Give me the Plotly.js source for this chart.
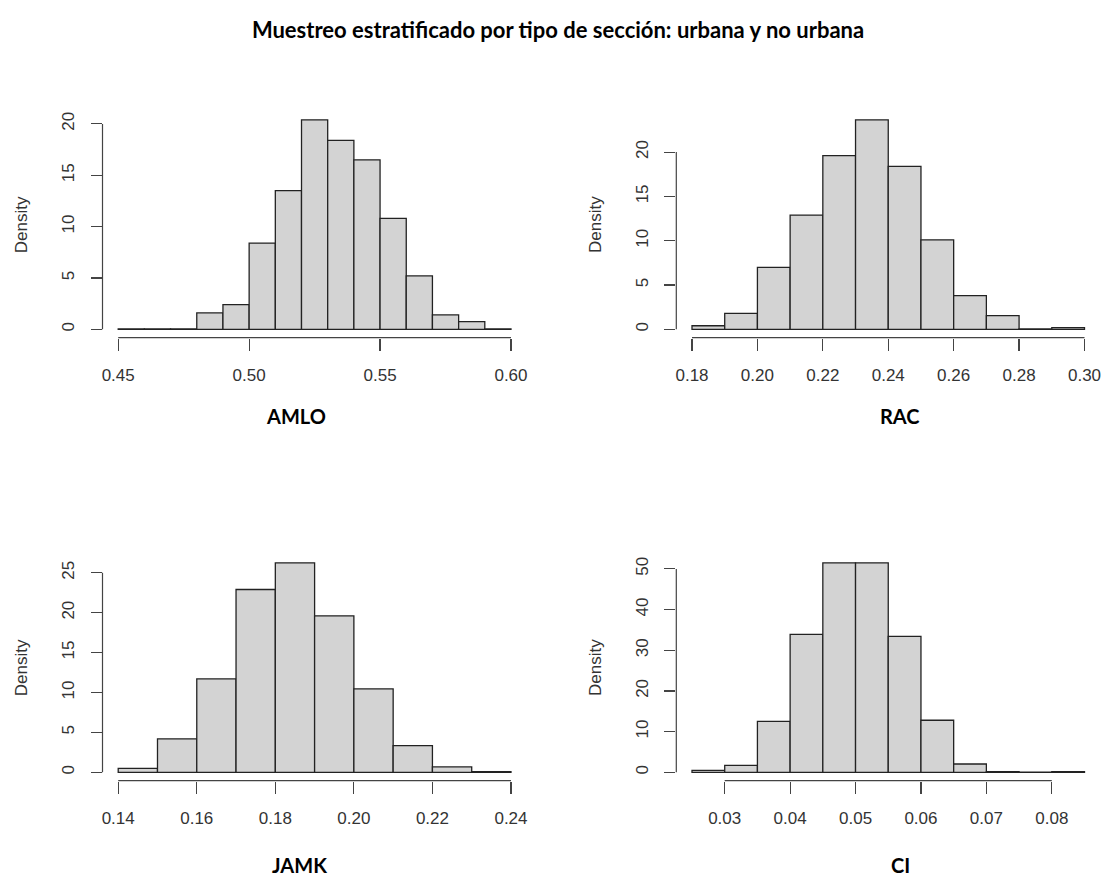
<!DOCTYPE html>
<html>
<head>
<meta charset="utf-8">
<script src="https://cdn.plot.ly/plotly-3.0.1.min.js"></script>
<style>
  html, body { margin: 0; padding: 0; background: #ffffff; }
  #chart { width: 1105px; height: 879px; }
</style>
</head>
<body>
<div id="chart"></div>
<script>
// ---------------- DATA ----------------
const chartTitle = "Muestreo estratificado por tipo de sección: urbana y no urbana";
const panelNames = ["AMLO", "RAC", "JAMK", "CI"];

// AMLO: bins of width 0.01 starting at 0.45
const amloBinStart = 0.45;
const amloBinWidth = 0.01;
const amloDensity = [0.05, 0.05, 0.05, 1.6, 2.4, 8.4, 13.5, 20.4, 18.4, 16.5, 10.8, 5.2, 1.4, 0.75, 0.05];
const amloXTicks = [0.45, 0.50, 0.55, 0.60];
const amloXLabels = ["0.45", "0.50", "0.55", "0.60"];
const amloYTicks = [0, 5, 10, 15, 20];

// RAC: bins of width 0.01 starting at 0.18
const racBinStart = 0.18;
const racBinWidth = 0.01;
const racDensity = [0.4, 1.8, 7.0, 12.9, 19.6, 23.65, 18.4, 10.1, 3.8, 1.55, 0.05, 0.2];
const racXTicks = [0.18, 0.20, 0.22, 0.24, 0.26, 0.28, 0.30];
const racXLabels = ["0.18", "0.20", "0.22", "0.24", "0.26", "0.28", "0.30"];
const racYTicks = [0, 5, 10, 15, 20];

// JAMK: bins of width 0.01 starting at 0.14
const jamkBinStart = 0.14;
const jamkBinWidth = 0.01;
const jamkDensity = [0.5, 4.2, 11.7, 22.9, 26.25, 19.6, 10.45, 3.35, 0.67, 0.08];
const jamkXTicks = [0.14, 0.16, 0.18, 0.20, 0.22, 0.24];
const jamkXLabels = ["0.14", "0.16", "0.18", "0.20", "0.22", "0.24"];
const jamkYTicks = [0, 5, 10, 15, 20, 25];

// CI: bins of width 0.005 starting at 0.025
const ciBinStart = 0.025;
const ciBinWidth = 0.005;
const ciDensity = [0.5, 1.7, 12.5, 33.9, 51.5, 51.5, 33.4, 12.8, 2.05, 0.15, 0.05, 0.15];
const ciXTicks = [0.03, 0.04, 0.05, 0.06, 0.07, 0.08];
const ciXLabels = ["0.03", "0.04", "0.05", "0.06", "0.07", "0.08"];
const ciYTicks = [0, 10, 20, 30, 40, 50];

const yTitle = "Density";

// ---------------- LAYOUT HELPERS ----------------
const W = 1105, H = 879;
const fx = px => px / W;
const fy = py => 1 - py / H;

// plot regions in pixels (left, right, top, bottom)
const cols = [[102.5, 526.7], [676.3, 1100.2]];
const rows = [[111.4, 337.7], [554.4, 780.7]];
const panelCol = [0, 1, 0, 1];
const panelRow = [0, 0, 1, 1];
const labelPos = [[296, 416], [900, 416], [299, 865], [900, 865]];

const panels = [
  { start: amloBinStart, width: amloBinWidth, dens: amloDensity, xt: amloXTicks, xl: amloXLabels, yt: amloYTicks },
  { start: racBinStart,  width: racBinWidth,  dens: racDensity,  xt: racXTicks,  xl: racXLabels,  yt: racYTicks },
  { start: jamkBinStart, width: jamkBinWidth, dens: jamkDensity, xt: jamkXTicks, xl: jamkXLabels, yt: jamkYTicks },
  { start: ciBinStart,   width: ciBinWidth,   dens: ciDensity,   xt: ciXTicks,   xl: ciXLabels,   yt: ciYTicks }
];

const tickFont = { family: "Liberation Sans, Arial, sans-serif", size: 17, color: "#333333" };
const axisColor = "#444444";

const traces = [];
const layout = {
  width: W, height: H,
  margin: { l: 0, r: 0, t: 0, b: 0, pad: 0 },
  paper_bgcolor: "#ffffff",
  plot_bgcolor: "#ffffff",
  showlegend: false,
  bargap: 0,
  title: {
    text: "<b>" + chartTitle + "</b>",
    x: 0.505, xanchor: "center", xref: "paper",
    y: fy(30), yanchor: "middle", yref: "container",
    font: { family: "Lato, Open Sans, sans-serif", size: 22, color: "#000000" }
  },
  shapes: [],
  annotations: []
};

panels.forEach((p, i) => {
  const n = i + 1;
  const xId = "x" + (n === 1 ? "" : n);
  const yId = "y" + (n === 1 ? "" : n);
  const xKey = "xaxis" + (n === 1 ? "" : n);
  const yKey = "yaxis" + (n === 1 ? "" : n);

  const centers = p.dens.map((_, k) => p.start + (k + 0.5) * p.width);
  const widths = p.dens.map(() => p.width);
  const span = p.dens.length * p.width;
  const xr = [p.start - 0.04 * span, p.start + span + 0.04 * span];
  const maxD = Math.max(...p.dens);
  const yr = [-0.04 * maxD, 1.04 * maxD];

  traces.push({
    type: "bar",
    x: centers, y: p.dens, width: widths,
    xaxis: xId, yaxis: yId,
    marker: { color: "#D3D3D3", line: { color: "#222222", width: 1.3 } },
    hoverinfo: "skip"
  });

  const c = cols[panelCol[i]], r = rows[panelRow[i]];
  layout[xKey] = {
    domain: [fx(c[0]), fx(c[1])],
    range: xr,
    anchor: yId,
    showgrid: false, zeroline: false, showline: false,
    ticks: "outside", ticklen: 12, tickwidth: 1.2, tickcolor: axisColor,
    tickmode: "array", tickvals: p.xt, ticktext: p.xl,
    tickfont: tickFont,
    ticklabelstandoff: 10,
    fixedrange: true
  };
  layout[yKey] = {
    domain: [fy(r[1]), fy(r[0])],
    range: yr,
    anchor: xId,
    showgrid: false, zeroline: false, showline: false,
    ticks: "outside", ticklen: 11, tickwidth: 1.2, tickcolor: axisColor,
    tickmode: "array", tickvals: p.yt, ticktext: p.yt.map(String),
    tickangle: -90,
    tickfont: tickFont,
    ticklabelstandoff: 10,
    fixedrange: true
  };

  // R-style axis lines spanning only from the first to the last tick
  layout.shapes.push({
    type: "line", xref: xId, yref: yId + " domain",
    x0: p.xt[0], x1: p.xt[p.xt.length - 1], y0: 0, y1: 0,
    line: { color: axisColor, width: 1.2 }
  });
  layout.shapes.push({
    type: "line", xref: xId + " domain", yref: yId,
    x0: 0, x1: 0, y0: p.yt[0], y1: p.yt[p.yt.length - 1],
    line: { color: axisColor, width: 1.2 }
  });

  // y title "Density"
  layout.annotations.push({
    text: yTitle, textangle: -90, showarrow: false,
    xref: "paper", yref: "paper",
    x: fx(c[0] - 80.8), y: fy((r[0] + r[1]) / 2),
    xanchor: "center", yanchor: "middle",
    font: { family: "Liberation Sans, Arial, sans-serif", size: 17, color: "#333333" }
  });
  // panel label
  layout.annotations.push({
    text: "<b>" + panelNames[i] + "</b>", showarrow: false,
    xref: "paper", yref: "paper",
    x: fx(labelPos[i][0]), y: fy(labelPos[i][1]),
    xanchor: "center", yanchor: "middle",
    font: { family: "Lato, Open Sans, sans-serif", size: 20, color: "#000000" }
  });
});

Plotly.newPlot("chart", traces, layout, { staticPlot: true, displayModeBar: false });
</script>
</body>
</html>
